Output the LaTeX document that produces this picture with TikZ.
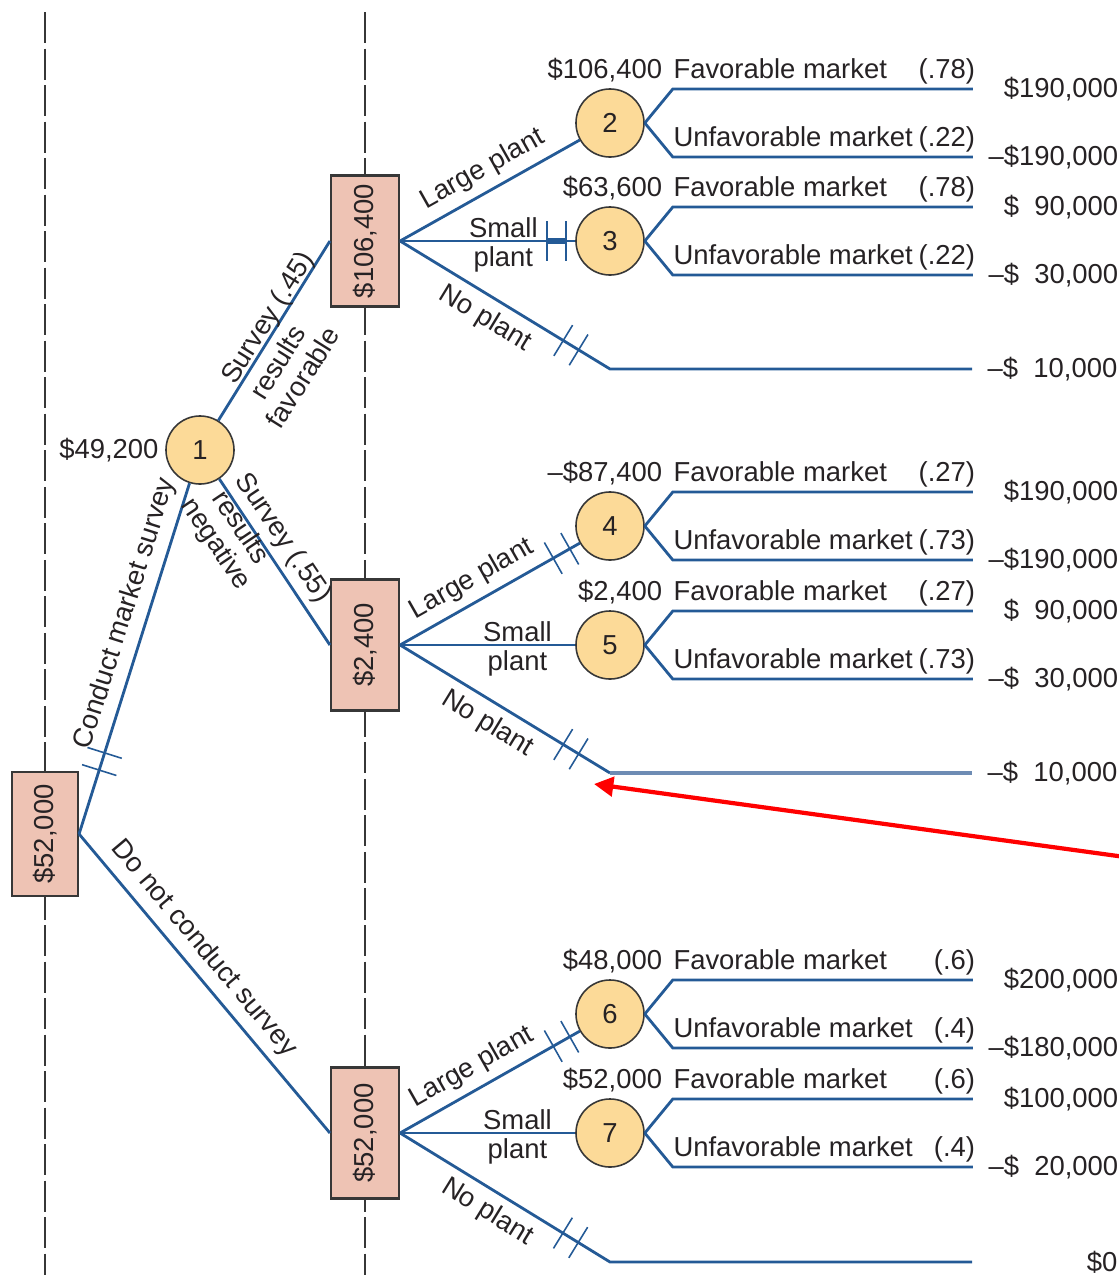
\documentclass[tikz,border=0pt]{standalone}
\usepackage{fontspec}
\setmainfont{Liberation Sans}
\usepackage{graphicx}
\usetikzlibrary{positioning,arrows.meta,decorations.markings}

\definecolor{treeblue}{RGB}{36,90,150}
\definecolor{paleblue}{RGB}{110,140,180}
\definecolor{boxfill}{RGB}{238,195,180}
\definecolor{chancefill}{RGB}{252,218,152}
\definecolor{inkgray}{RGB}{55,55,55}
\definecolor{txt}{RGB}{38,34,36}

\newcommand{\fs}{\phantom{0}}

\tikzset{
  dbox/.style={draw=inkgray, line width=0.6pt, fill=boxfill, text=txt,
    minimum width=0.68cm, minimum height=1.31cm, inner sep=0pt},
  cnode/.style={circle, draw=inkgray, line width=0.45pt, fill=chancefill, text=txt,
    minimum size=0.68cm, inner sep=0pt},
  edge/.style={draw=treeblue, line width=0.8pt},
  guide/.style={draw=inkgray, line width=0.65pt, dash pattern=on 0.31cm off 0.055cm},
  lbl/.style={inner sep=0pt, text=txt},
  elbl/.style={lbl, outer sep=2.6pt},
  sml/.style={lbl, align=center, font=\fontsize{7.8}{8.3}\selectfont, yshift=-1pt},
  surv/.style={lbl, align=center, font=\fontsize{7.8}{8.4}\selectfont},
  gatetick/.style={draw=treeblue, line width=0.45pt},
  gate/.style 2 args={postaction={decorate, decoration={markings,
      mark=at position #1 with {\draw[gatetick] (0,-18) -- (0,18);},
      mark=at position #2 with {\draw[gatetick] (0,-18) -- (0,18);}}}},
  gatebar/.style 2 args={postaction={decorate, decoration={markings,
      mark=at position #1 with {\draw[gatetick, line width=0.6pt] (0,-20) -- (0,20);
        \draw[edge, line width=1.6pt] (0,0) -- (19,0);},
      mark=at position #2 with {\draw[gatetick, line width=0.6pt] (0,-20) -- (0,20);}}}},
  redarrow/.style={draw=red, line width=1.2pt, -{Triangle[length=5.5pt,width=5.5pt]}}
}

\begin{document}
\begin{tikzpicture}[x=0.01cm, y=-0.01cm, font=\fontsize{7.8}{8.8}\selectfont]
  \useasboundingbox (0,0) rectangle (1119,1275);

  \draw[guide] (45,12) -- (45,1275);
  \draw[guide] (365,12) -- (365,1275);

  \node[dbox, minimum width=0.66cm, minimum height=1.24cm] (dA) at (45,834) {\rotatebox{90}{\$52,000}};
  \node[dbox] (dB) at (365,241) {\rotatebox{90}{\$106,400}};
  \node[dbox] (dC) at (365,645) {\rotatebox{90}{\$2,400}};
  \node[dbox] (dD) at (365,1133) {\rotatebox{90}{\$52,000}};

  \node[cnode] (c1) at (200,450) {1};
  \node[cnode] (c2) at (610,123) {2};
  \node[cnode] (c3) at (610,241) {3};
  \node[cnode] (c4) at (610,526) {4};
  \node[cnode] (c5) at (610,645) {5};
  \node[cnode] (c6) at (610,1014) {6};
  \node[cnode] (c7) at (610,1133) {7};

  \node[lbl, left=0.06cm of c1] {\$49,200};

  \coordinate (nB) at (610,369);  \coordinate (nBe) at (972,369);
  \coordinate (nC) at (610,773);  \coordinate (nCe) at (972,773);
  \coordinate (nD) at (610,1262); \coordinate (nDe) at (972,1262);

  % first decision
  \draw[edge, gate={0.67cm}{0.85cm}] (dA.east) -- node[elbl, sloped, pos=.61, above] {Conduct market survey} (c1);
  \draw[edge] (dA.east) -- node[elbl, sloped, pos=.43, above] {Do not conduct survey} (dD.west);

  % survey outcome
  \draw[edge] (c1) -- (dB.west);
  \draw[edge] (c1) -- (dC.west);
  \node[surv, rotate=57.9] at (276,361) {Survey\rlap{ (.45)}\\[1pt]results\\favorable};
  \node[surv, rotate=-56.1] at (240,528) {Survey\rlap{ (.55)}\\results\\negative};

  % plant decisions
  \draw[edge] (dB.east) -- node[elbl, sloped, pos=.52, above] {Large plant} (c2);
  \draw[edge, gatebar={1.47cm}{1.66cm}] (dB.east) -- node[sml, pos=.59] {Small\\plant} (c3);
  \draw[edge, gate={1.91cm}{2.09cm}] (dB.east) -- node[elbl, sloped, pos=.46, below] {No plant} (nB) -- (nBe);

  \draw[edge, gate={1.76cm}{1.95cm}] (dC.east) -- node[elbl, sloped, pos=.46, above] {Large plant} (c4);
  \draw[edge] (dC.east) -- node[sml, pos=.67] {Small\\plant} (c5);
  \draw[edge, gate={1.91cm}{2.09cm}] (dC.east) -- node[elbl, sloped, pos=.47, below] {No plant} (nC);
  \draw[edge, draw=paleblue, line width=1pt] (nC) -- (nCe);

  \draw[edge, gate={1.76cm}{1.95cm}] (dD.east) -- node[elbl, sloped, pos=.46, above] {Large plant} (c6);
  \draw[edge] (dD.east) -- node[sml, pos=.67] {Small\\plant} (c7);
  \draw[edge, gate={1.91cm}{2.09cm}] (dD.east) -- node[elbl, sloped, pos=.47, below] {No plant} (nD) -- (nDe);

  \node[lbl, anchor=east, xshift=1.46cm] at (nBe) {--\$\fs10,000};
  \node[lbl, anchor=east, xshift=1.46cm] at (nCe) {--\$\fs10,000};
  \node[lbl, anchor=east, xshift=1.46cm] at (nDe) {\$0};

  % market outcomes
  \foreach \c/\ev/\pf/\pu/\vf/\vu in {
      c2/{\$106,400}/(.78)/(.22)/{\$190,000}/{--\$190,000},
      c3/{\$63,600}/(.78)/(.22)/{\$\fs90,000}/{--\$\fs30,000},
      c4/{--\$87,400}/(.27)/(.73)/{\$190,000}/{--\$190,000},
      c5/{\$2,400}/(.27)/(.73)/{\$\fs90,000}/{--\$\fs30,000},
      c6/{\$48,000}/(.6)/(.4)/{\$200,000}/{--\$180,000},
      c7/{\$52,000}/(.6)/(.4)/{\$100,000}/{--\$\fs20,000}}{
    \draw[edge] (\c.east) -- ++(28,-34) coordinate (\c-f) -- ++(300,0) coordinate (\c-fe);
    \draw[edge] (\c.east) -- ++(28,34) coordinate (\c-u) -- ++(300,0) coordinate (\c-ue);
    \node[lbl, anchor=base east, xshift=-0.1cm, yshift=0.11cm] at (\c-f) {\ev};
    \node[lbl, anchor=base west, yshift=0.11cm] at (\c-f) {Favorable market};
    \node[lbl, anchor=base east, xshift=0.03cm, yshift=0.11cm] at (\c-fe) {\pf};
    \node[lbl, anchor=base west, yshift=0.11cm] at (\c-u) {Unfavorable market};
    \node[lbl, anchor=base east, xshift=0.03cm, yshift=0.11cm] at (\c-ue) {\pu};
    \node[lbl, anchor=east, xshift=1.46cm] at (\c-fe) {\vf};
    \node[lbl, anchor=east, xshift=1.46cm] at (\c-ue) {\vu};
  }

  \coordinate (redtail) at (1125,857);
  \coordinate (redtip) at (594,784);
  \draw[redarrow] (redtail) -- (redtip);
\end{tikzpicture}
\end{document}
